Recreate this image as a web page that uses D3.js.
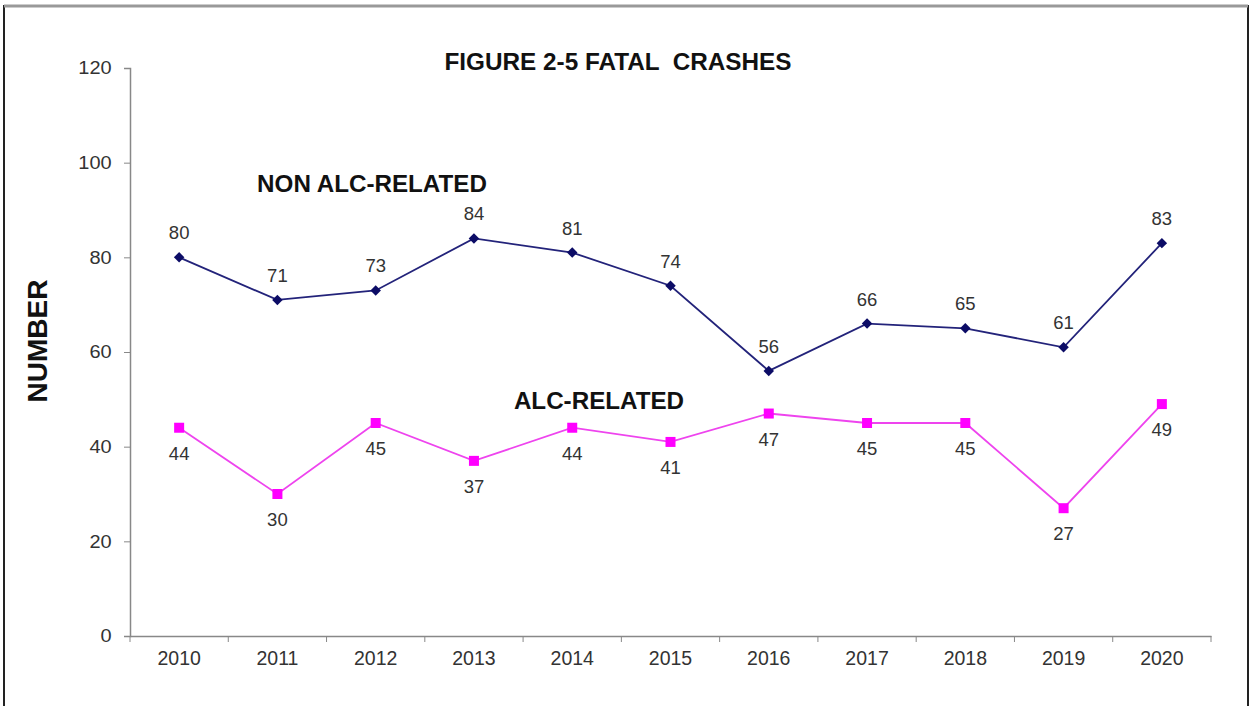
<!DOCTYPE html>
<html><head><meta charset="utf-8">
<script src="https://cdn.jsdelivr.net/npm/d3@7"></script>
<style>
html,body{margin:0;padding:0;background:#fff;}
svg{display:block;font-family:"Liberation Sans",Arial,sans-serif;}
text{white-space:pre;}
</style></head>
<body>
<svg id="chart" width="1255" height="706"></svg>
<script>
const years = ["2010","2011","2012","2013","2014","2015","2016","2017","2018","2019","2020"];
const nonAlc = [80,71,73,84,81,74,56,66,65,61,83];
const alc = [44,30,45,37,44,41,47,45,45,27,49];
const yTicks = [0,20,40,60,80,100,120];
const title = "FIGURE 2-5 FATAL  CRASHES";
const yTitle = "NUMBER";
const seriesNames = ["NON ALC-RELATED","ALC-RELATED"];

const svg = d3.select("#chart");
const FONT = "Liberation Sans, Arial, sans-serif";
// outer border
svg.append("rect").attr("x",4).attr("y",6).attr("width",1244).attr("height",720)
  .attr("fill","none").attr("stroke","#222").attr("stroke-width",2);
svg.append("line").attr("x1",4).attr("x2",1248).attr("y1",6).attr("y2",6)
  .attr("stroke","#999").attr("stroke-width",3);

const x = d3.scaleBand().domain(years).range([130,1211]);
const y = d3.scaleLinear().domain([0,120]).range([636,68]);

// axes
const gy = svg.append("g").attr("transform","translate(130,0)")
  .call(d3.axisLeft(y).tickValues(yTicks).tickSize(6).tickPadding(11));
gy.select(".domain").attr("stroke","#888").attr("stroke-width",1.5);
gy.selectAll(".tick line").attr("stroke","#888");
gy.selectAll("text").attr("font-size",18.5).attr("fill","#333").attr("font-family",FONT)
  .attr("transform","scale(1.08,1)");

const gx = svg.append("g").attr("transform","translate(0,636)")
  .call(d3.axisBottom(x).tickSize(0).tickPadding(17));
gx.select(".domain").attr("stroke","#888").attr("stroke-width",1.5);
gx.selectAll("text").attr("font-size",19.5).attr("fill","#333").attr("font-family",FONT)
  .attr("dy","0.6em");
// boundary ticks between categories
const bounds = years.map(d=>x(d)).concat([x(years[years.length-1])+x.bandwidth()]);
svg.append("g").selectAll("line").data(bounds).join("line")
  .attr("x1",d=>d).attr("x2",d=>d).attr("y1",636).attr("y2",642)
  .attr("stroke","#888").attr("stroke-width",1);

const cx = d => x(d) + x.bandwidth()/2;
const line = d3.line().x((d,i)=>cx(years[i])).y(d=>y(d));

// non alc series
svg.append("path").datum(nonAlc).attr("d",line).attr("fill","none")
  .attr("stroke","#23237a").attr("stroke-width",1.8);
svg.append("g").selectAll("path").data(nonAlc).join("path")
  .attr("d",d3.symbol().type(d3.symbolDiamond2).size(70))
  .attr("transform",(d,i)=>`translate(${cx(years[i])},${y(d)})`)
  .attr("fill","#0c0c66");
svg.append("g").selectAll("text").data(nonAlc).join("text")
  .attr("x",(d,i)=>cx(years[i])).attr("y",d=>y(d)-18)
  .attr("text-anchor","middle").attr("font-size",18.5).attr("fill","#333")
  .text(d=>d);

// alc series
svg.append("path").datum(alc).attr("d",line).attr("fill","none")
  .attr("stroke","#ee44ee").attr("stroke-width",1.8);
svg.append("g").selectAll("rect").data(alc).join("rect")
  .attr("x",(d,i)=>cx(years[i])-5).attr("y",d=>y(d)-5)
  .attr("width",10).attr("height",10).attr("fill","#ff00ff");
svg.append("g").selectAll("text").data(alc).join("text")
  .attr("x",(d,i)=>cx(years[i])).attr("y",d=>y(d)+32)
  .attr("text-anchor","middle").attr("font-size",18.5).attr("fill","#333")
  .text(d=>d);

// titles
svg.append("text").attr("x",618).attr("y",70).attr("text-anchor","middle")
  .attr("font-size",24.3).attr("font-weight","bold").attr("fill","#111").text(title);
svg.append("text").attr("transform","translate(47,341) rotate(-90)").attr("text-anchor","middle")
  .attr("font-size",28).attr("font-weight","bold").attr("fill","#111").text(yTitle);
svg.append("text").attr("x",372).attr("y",192).attr("text-anchor","middle")
  .attr("font-size",24.2).attr("font-weight","bold").attr("fill","#111").text(seriesNames[0]);
svg.append("text").attr("x",599).attr("y",409).attr("text-anchor","middle")
  .attr("font-size",24.2).attr("font-weight","bold").attr("fill","#111").text(seriesNames[1]);
</script>
</body></html>
